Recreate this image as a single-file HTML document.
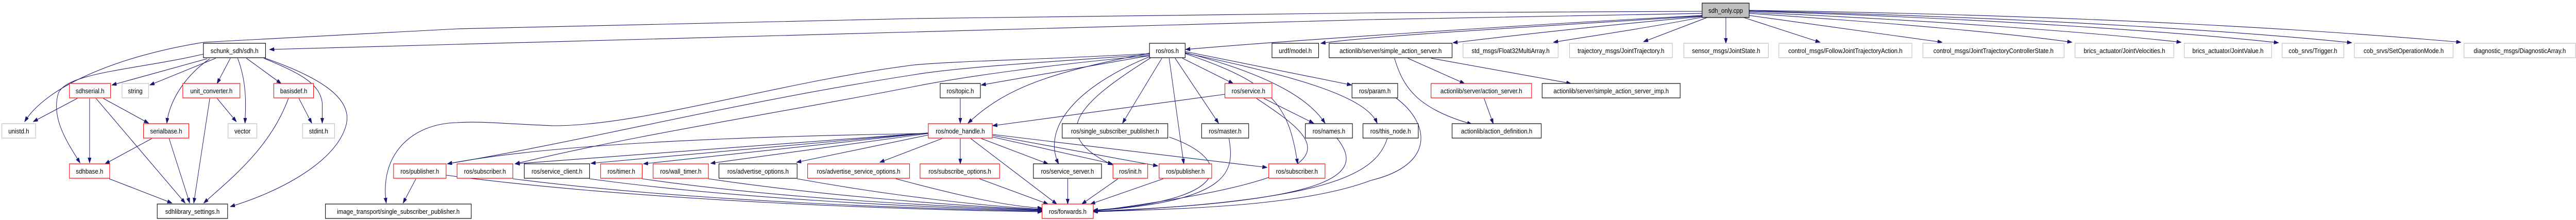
<!DOCTYPE html>
<html><head><meta charset="utf-8"><style>
html,body{margin:0;padding:0;background:#fff;overflow:hidden;width:100%;height:100%;}
svg{display:block;width:100vw;height:100vh;}
text{font-family:"Liberation Sans",sans-serif;font-size:13px;fill:#000;text-anchor:middle;}
.b{fill:#fff;stroke:#000;stroke-width:1.2;}
.r{fill:#fff;stroke:#ff0000;stroke-width:1.2;}
.g{fill:#fff;stroke:#bfbfbf;stroke-width:1.2;}
path{fill:none;stroke:#191970;stroke-width:1.1;marker-end:url(#a);}
</style></head><body>
<svg viewBox="0 0 5636 427" preserveAspectRatio="none" xmlns="http://www.w3.org/2000/svg">
<defs><marker id="a" markerUnits="userSpaceOnUse" markerWidth="11" markerHeight="8" refX="10" refY="3.5" orient="auto"><path d="M0,0 L10,3.5 L0,7 z" style="fill:#191970;stroke:#191970;stroke-width:1;marker-end:none"/></marker></defs>

<path d="M3724,26 L3000,38 L2000,62 L1000,86 L590,96"/>
<path d="M3724,22 L3000,25 L2000,36 L1000,56 L446,82 C250,110 100,170 54,236"/>
<path d="M3724,30 C3300,50 2800,80 2594,96"/>
<path d="M3724,31 C3300,55 3000,70 2890,84"/>
<path d="M3724,32 C3500,50 3300,70 3179,83"/>
<path d="M3726,33 C3600,55 3480,70 3399,82"/>
<path d="M3735,34 L3596,81"/>
<path d="M3776,34 L3776,84"/>
<path d="M3815,34 L3982,82"/>
<path d="M3827,30 C4000,50 4150,70 4249,82"/>
<path d="M3827,26 C4150,45 4400,65 4533,82"/>
<path d="M3827,24 C4250,40 4600,65 4772,82"/>
<path d="M3827,22 C4350,35 4800,65 4985,83"/>
<path d="M3827,21 C4500,35 4950,65 5145,83"/>
<path d="M3827,20 C4600,30 5100,60 5384,82"/>

<path d="M445,105 C300,135 150,140 128,180 C110,230 150,280 175,316"/>
<path d="M453,114 L245,165"/>
<path d="M472,113 L328,165"/>
<path d="M459,114 C400,150 370,200 365,239"/>
<path d="M504,113 L475,162"/>
<path d="M520,113 C540,160 538,200 536,239"/>
<path d="M539,113 L615,162"/>
<path d="M577,113 C650,140 700,160 705,200 L705,239"/>
<path d="M580,113 C700,150 770,190 758,240 C740,310 620,370 504,401"/>

<path d="M169,191 L73,236"/>
<path d="M196,191 L196,316"/>
<path d="M210,191 L405,394"/>
<path d="M226,191 L325,239"/>
<path d="M459,191 L424,394"/>
<path d="M475,191 L517,236"/>
<path d="M631,191 C590,290 500,350 446,394"/>
<path d="M654,191 L682,239"/>
<path d="M332,269 L230,318"/>
<path d="M370,269 L415,394"/>
<path d="M239,347 L376,394"/>

<path d="M2515,104 C2300,115 2100,118 2000,126 C1700,160 1400,245 1210,244 C1100,240 1050,235 1000,238 C900,240 830,300 845,394"/>
<path d="M2515,106 C2300,120 2100,130 2000,145 C1600,200 1300,270 979,318"/>
<path d="M2515,108 C2300,125 2100,150 2000,168 C1700,220 1400,260 1127,318"/>
<path d="M2515,108 L2147,165"/>
<path d="M2515,103 C2300,140 2200,170 2118,239"/>
<path d="M2515,110 C2350,170 2280,250 2316,318"/>
<path d="M2518,112 C2360,200 2290,260 2434,320"/>
<path d="M2542,113 L2456,239"/>
<path d="M2558,113 L2590,318"/>
<path d="M2571,113 L2666,239"/>
<path d="M2587,113 L2698,162"/>
<path d="M2593,104 C2780,160 2820,200 2839,318"/>
<path d="M2593,102 C2800,150 2870,200 2899,239"/>
<path d="M2593,100 L2957,165"/>
<path d="M2593,103 C2850,150 2990,190 3013,239"/>

<path d="M2558,266 C2700,310 2700,390 2392,408"/>
<path d="M2689,269 C2700,330 2700,390 2392,409"/>
<path d="M2749,191 C2900,280 2990,340 2392,410"/>
<path d="M2925,268 C2980,330 2960,390 2392,410"/>
<path d="M3035,269 C3010,340 2900,390 2392,411"/>
<path d="M3054,190 C3130,240 3140,320 3000,350 C2850,400 2600,405 2392,411"/>

<path d="M2680,183 L2172,244"/>
<path d="M2765,191 L2874,239"/>
<path d="M2101,191 L2101,239"/>
<path d="M2101,269 L2101,318"/>
<path d="M2124,269 L2312,396"/>
<path d="M2147,269 L2293,318"/>
<path d="M2172,266 L2434,318"/>
<path d="M2172,263 L2533,322"/>
<path d="M2172,261 L2772,325"/>
<path d="M2061,269 L1925,315"/>
<path d="M2031,262 L1743,315"/>
<path d="M2031,259 L1555,317"/>
<path d="M2031,258 L1408,318"/>
<path d="M2031,258 L1293,317"/>
<path d="M2031,258 L1127,318"/>
<path d="M2031,259 C1600,265 1200,280 979,318"/>
<path d="M2143,347 L2293,396"/>
<path d="M2336,347 L2336,396"/>
<path d="M2446,347 L2367,396"/>
<path d="M2545,347 L2386,396"/>
<path d="M1960,347 C2100,380 2200,400 2280,404"/>
<path d="M1744,347 C1950,380 2150,400 2280,406"/>
<path d="M1550,347 C1800,380 2100,400 2280,407"/>
<path d="M1405,347 C1700,385 2050,400 2280,408"/>
<path d="M1290,347 C1600,385 2000,402 2280,409"/>
<path d="M1122,347 C1500,390 2000,405 2280,410"/>
<path d="M976,340 C1400,390 2000,408 2280,411"/>
<path d="M910,347 L882,394"/>

<path d="M3080,113 L3204,162"/>
<path d="M3131,113 L3437,162"/>
<path d="M3051,113 C3070,170 3100,210 3220,241"/>
<path d="M3247,191 L3267,240"/>

<rect class="b" x="3724" y="6" width="103" height="28" style="fill:#bfbfbf"/><text x="3775.5" y="25">sdh_only.cpp</text>

<rect class="b" x="445" y="84" width="136" height="28"/><text x="513" y="103">schunk_sdh/sdh.h</text>
<rect class="b" x="2515" y="84" width="78" height="28"/><text x="2554" y="103">ros/ros.h</text>
<rect class="b" x="2783" y="84" width="102" height="28"/><text x="2834" y="103">urdf/model.h</text>
<rect class="b" x="2908" y="84" width="269" height="28"/><text x="3042.5" y="103">actionlib/server/simple_action_server.h</text>
<rect class="g" x="3201" y="84" width="208" height="28"/><text x="3305" y="103">std_msgs/Float32MultiArray.h</text>
<rect class="g" x="3434" y="84" width="225" height="28"/><text x="3546.5" y="103">trajectory_msgs/JointTrajectory.h</text>
<rect class="g" x="3684" y="84" width="185" height="28"/><text x="3776.5" y="103">sensor_msgs/JointState.h</text>
<rect class="g" x="3892" y="84" width="291" height="28"/><text x="4037.5" y="103">control_msgs/FollowJointTrajectoryAction.h</text>
<rect class="g" x="4207" y="84" width="309" height="28"/><text x="4361.5" y="103">control_msgs/JointTrajectoryControllerState.h</text>
<rect class="g" x="4540" y="84" width="216" height="28"/><text x="4648" y="103">brics_actuator/JointVelocities.h</text>
<rect class="g" x="4779" y="84" width="191" height="28"/><text x="4874.5" y="103">brics_actuator/JointValue.h</text>
<rect class="g" x="4993" y="84" width="135" height="28"/><text x="5060.5" y="103">cob_srvs/Trigger.h</text>
<rect class="g" x="5151" y="84" width="216" height="28"/><text x="5259" y="103">cob_srvs/SetOperationMode.h</text>
<rect class="g" x="5391" y="84" width="244" height="28"/><text x="5513" y="103">diagnostic_msgs/DiagnosticArray.h</text>

<rect class="r" x="152" y="162" width="90" height="28"/><text x="197" y="181">sdhserial.h</text>
<rect class="g" x="267" y="162" width="58" height="28"/><text x="296" y="181">string</text>
<rect class="r" x="400" y="162" width="125" height="28"/><text x="462.5" y="181">unit_converter.h</text>
<rect class="r" x="599" y="162" width="87" height="28"/><text x="642.5" y="181">basisdef.h</text>
<rect class="b" x="2057" y="162" width="88" height="28"/><text x="2101" y="181">ros/topic.h</text>
<rect class="r" x="2680" y="162" width="103" height="28"/><text x="2731.5" y="181">ros/service.h</text>
<rect class="b" x="2958" y="162" width="100" height="28"/><text x="3008" y="181">ros/param.h</text>
<rect class="r" x="3131" y="162" width="220" height="28"/><text x="3241" y="181">actionlib/server/action_server.h</text>
<rect class="b" x="3374" y="162" width="302" height="28"/><text x="3525" y="181">actionlib/server/simple_action_server_imp.h</text>

<rect class="g" x="4" y="240" width="74" height="28"/><text x="41" y="259">unistd.h</text>
<rect class="r" x="314" y="240" width="99" height="28"/><text x="363.5" y="259">serialbase.h</text>
<rect class="g" x="499" y="240" width="63" height="28"/><text x="530.5" y="259">vector</text>
<rect class="g" x="662" y="240" width="70" height="28"/><text x="697" y="259">stdint.h</text>
<rect class="r" x="2031" y="240" width="140" height="28"/><text x="2101" y="259">ros/node_handle.h</text>
<rect class="b" x="2324" y="240" width="231" height="28"/><text x="2439.5" y="259">ros/single_subscriber_publisher.h</text>
<rect class="b" x="2629" y="240" width="103" height="28"/><text x="2680.5" y="259">ros/master.h</text>
<rect class="b" x="2856" y="240" width="103" height="28"/><text x="2907.5" y="259">ros/names.h</text>
<rect class="b" x="2982" y="240" width="121" height="28"/><text x="3042.5" y="259">ros/this_node.h</text>
<rect class="b" x="3177" y="240" width="195" height="28"/><text x="3274.5" y="259">actionlib/action_definition.h</text>

<rect class="r" x="152" y="318" width="88" height="28"/><text x="196" y="337">sdhbase.h</text>
<rect class="r" x="861" y="318" width="115" height="28"/><text x="918.5" y="337">ros/publisher.h</text>
<rect class="r" x="1000" y="318" width="122" height="28"/><text x="1061" y="337">ros/subscriber.h</text>
<rect class="b" x="1147" y="318" width="143" height="28"/><text x="1218.5" y="337">ros/service_client.h</text>
<rect class="r" x="1314" y="318" width="91" height="28"/><text x="1359.5" y="337">ros/timer.h</text>
<rect class="r" x="1429" y="318" width="121" height="28"/><text x="1489.5" y="337">ros/wall_timer.h</text>
<rect class="b" x="1573" y="318" width="171" height="28"/><text x="1658.5" y="337">ros/advertise_options.h</text>
<rect class="r" x="1767" y="318" width="223" height="28"/><text x="1878.5" y="337">ros/advertise_service_options.h</text>
<rect class="r" x="2013" y="318" width="174" height="28"/><text x="2100" y="337">ros/subscribe_options.h</text>
<rect class="b" x="2261" y="318" width="149" height="28"/><text x="2335.5" y="337">ros/service_server.h</text>
<rect class="r" x="2435" y="318" width="76" height="28"/><text x="2473" y="337">ros/init.h</text>
<rect class="r" x="2536" y="318" width="115" height="28"/><text x="2593.5" y="337">ros/publisher.h</text>
<rect class="r" x="2776" y="318" width="123" height="28"/><text x="2837.5" y="337">ros/subscriber.h</text>

<rect class="b" x="344" y="396" width="154" height="28"/><text x="421" y="415">sdhlibrary_settings.h</text>
<rect class="b" x="712" y="396" width="319" height="28"/><text x="871.5" y="415">image_transport/single_subscriber_publisher.h</text>
<rect class="r" x="2280" y="396" width="112" height="28"/><text x="2336" y="415">ros/forwards.h</text>
</svg>
</body></html>
